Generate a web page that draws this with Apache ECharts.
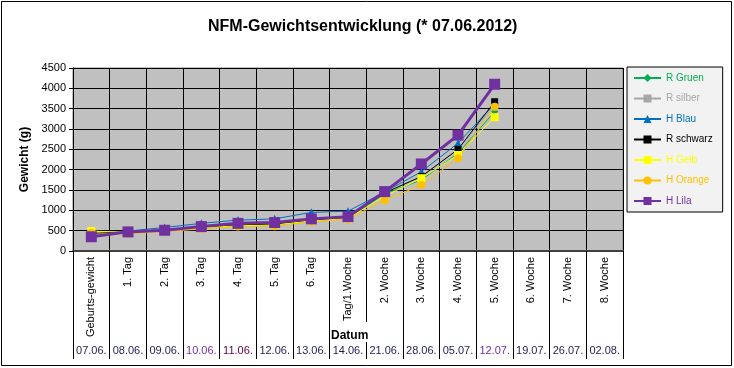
<!DOCTYPE html>
<html><head><meta charset="utf-8">
<script src="https://cdn.jsdelivr.net/npm/echarts@6/dist/echarts.min.js"></script>
<style>html,body{margin:0;padding:0;background:#fff}#c{width:734px;height:368px}</style>
</head><body><div id="c"></div>
<script>
const categories = ['Geburts-gewicht','1. Tag','2. Tag','3. Tag','4. Tag','5. Tag','6. Tag','7. Tag/1.Woche','2. Woche','3. Woche','4. Woche','5. Woche','6. Woche','7. Woche','8. Woche'];
const dates = ['07.06.','08.06.','09.06.','10.06.','11.06.','12.06.','13.06.','14.06.','21.06.','28.06.','05.07.','12.07.','19.07.','26.07.','02.08.'];
const yTicks = [0,500,1000,1500,2000,2500,3000,3500,4000,4500];
const rGruen   = [420, 470, 510, 580, 620, 640, 740, 800, 1400, 1750, 2400, 3430];
const rSilber  = [430, 480, 520, 590, 650, 670, 760, 820, 1420, 1850, 2480, 3600];
const hBlau    = [440, 490, 580, 680, 760, 790, 950, 980, 1450, 1950, 2650, 3620];
const rSchwarz = [430, 480, 520, 580, 640, 660, 760, 820, 1430, 1830, 2500, 3670];
const hGelb    = [490, 460, 500, 570, 620, 640, 740, 800, 1350, 1790, 2360, 3290];
const hOrange  = [450, 420, 480, 540, 600, 610, 720, 780, 1250, 1620, 2280, 3550];
const hLila    = [350, 470, 510, 600, 680, 700, 790, 845, 1460, 2140, 2850, 4100];

const F = 'Liberation Sans, Arial, sans-serif';
const dateColors = {'10.06.':'#7030A0','11.06.':'#5A0048','12.07.':'#7030A0'};
const defs = [
  {name:'R Gruen', data:rGruen, color:'#00B050', symbol:'diamond', size:7, w:1},
  {name:'R silber', data:rSilber, color:'#A6A6A6', symbol:'rect', size:7, w:1},
  {name:'H Blau', data:hBlau, color:'#0070C0', symbol:'triangle', size:8, w:1},
  {name:'R schwarz', data:rSchwarz, color:'#000000', symbol:'rect', size:7, w:1},
  {name:'H Gelb', data:hGelb, color:'#FFFF00', symbol:'rect', size:8, w:1},
  {name:'H Orange', data:hOrange, color:'#FFC000', symbol:'circle', size:8, w:1},
  {name:'H Lila', data:hLila, color:'#7030A0', symbol:'rect', size:11, w:3}
];
const chart = echarts.init(document.getElementById('c'));
chart.setOption({
  animation:false,
  backgroundColor:'#fff',
  title:{text:'NFM-Gewichtsentwicklung (* 07.06.2012)', left:203, top:14,
    textStyle:{fontFamily:F, fontSize:16, fontWeight:'bold', color:'#000'}},
  legend:{orient:'vertical', left:627, top:67, width:93, height:143, itemWidth:27, itemHeight:10, itemGap:10.5,
    padding:[6,10,6,6], backgroundColor:'#F2F2F2', borderColor:'#000', borderWidth:1,
    textStyle:{fontFamily:F, fontSize:10},
    data: defs.map(d=>({name:d.name, textStyle:{color:d.color}}))},
  grid:{left:73, top:68, width:550, height:183, show:true, backgroundColor:'#C0C0C0', borderColor:'#808080', borderWidth:1},
  xAxis:[
    {type:'category', data:categories, boundaryGap:true, position:'bottom',
      axisLine:{lineStyle:{color:'#404040', width:2}},
      axisTick:{show:true, length:108, interval:0, lineStyle:{color:'#000'}},
      splitLine:{show:true, interval:0, lineStyle:{color:'#000', width:1}},
      axisLabel:{rotate:90, interval:0, margin:6, fontFamily:F, fontSize:11, color:'#000'}},
    {type:'category', data:dates.map(d=>({value:d, textStyle:{color:dateColors[d]||'#1F1F4F'}})), boundaryGap:true, position:'bottom', offset:92,
      axisLine:{show:false}, axisTick:{show:false}, splitLine:{show:false},
      axisLabel:{interval:0, margin:2, fontFamily:F, fontSize:11}}
  ],
  yAxis:{type:'value', min:yTicks[0], max:yTicks[yTicks.length-1], interval:500,
    name:'Gewicht (g)', nameLocation:'middle', nameGap:36,
    nameTextStyle:{fontFamily:F, fontSize:12, fontWeight:'bold', color:'#000'},
    axisLine:{show:true, lineStyle:{color:'#000'}},
    axisTick:{show:true, length:4, lineStyle:{color:'#000'}},
    splitLine:{show:true, lineStyle:{color:'#000', width:1}},
    axisLabel:{fontFamily:F, fontSize:11, color:'#000', margin:7, formatter:v=>String(v)}},
  graphic:[
    {type:'rect', shape:{x:1.5, y:1.5, width:730, height:364}, style:{fill:'none', stroke:'#000', lineWidth:1}, z:100},
    {type:'text', left:331, top:322, z:100, style:{text:'Datum', font:'bold 12px '+F, fill:'#000', backgroundColor:'#fff', padding:[8,0,0,0]}}
  ],
  series: defs.map(d=>({name:d.name, type:'line', data:d.data, symbol:d.symbol, symbolSize:d.size,
    itemStyle:{color:d.color}, lineStyle:{color:d.color, width:d.w}, z: d.name==='H Lila'?5:2}))
});
</script></body></html>
